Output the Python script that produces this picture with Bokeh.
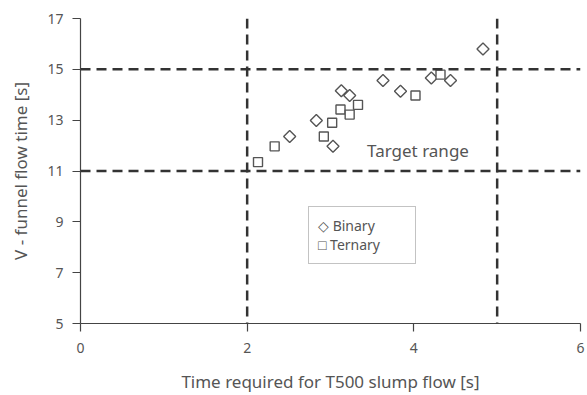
import math
from bokeh.plotting import figure
from bokeh.models import Range1d, Span, Label, Legend, LegendItem, FixedTicker
from bokeh.embed import file_html
from bokeh.resources import INLINE

# T500 slump flow time vs. V-funnel flow time
binary_t500 = [4.83, 3.63, 3.84, 4.21, 4.44, 3.13, 3.23, 2.83, 2.51, 3.03]
binary_vfunnel = [15.8, 14.56, 14.14, 14.66, 14.56, 14.16, 13.97, 12.99, 12.36, 11.97]

ternary_t500 = [2.13, 2.33, 2.92, 3.02, 3.12, 3.23, 3.33, 4.02, 4.32]
ternary_vfunnel = [11.35, 11.97, 12.36, 12.9, 13.42, 13.22, 13.6, 13.97, 14.79]

# target range limits
t500_limits = [2, 5]
vfunnel_limits = [11, 15]

x_ticks = [0, 2, 4, 6]
y_ticks = [5, 7, 9, 11, 13, 15, 17]

FONT = "Noto Sans"
TEXT = "#555555"
AXIS = "#444444"
MARK = "#555555"

p = figure(width=587, height=395, output_backend="svg", toolbar_location=None,
           x_range=Range1d(0, 6), y_range=Range1d(5, 17),
           min_border_left=80, min_border_right=7, min_border_top=18, min_border_bottom=72)
p.outline_line_color = None
p.xgrid.visible = False
p.ygrid.visible = False

for ax in (p.xaxis[0], p.yaxis[0]):
    ax.axis_line_color = AXIS
    ax.axis_line_width = 1.2
    ax.major_tick_line_color = AXIS
    ax.major_tick_line_width = 1.2
    ax.major_tick_in = 0
    ax.major_tick_out = 8
    ax.minor_tick_line_color = None
    ax.major_label_text_font = FONT
    ax.major_label_text_font_size = "14px"
    ax.major_label_text_color = TEXT
    ax.axis_label_text_font = FONT
    ax.axis_label_text_font_size = "17px"
    ax.axis_label_text_font_style = "normal"
    ax.axis_label_text_color = TEXT

p.xaxis.ticker = FixedTicker(ticks=x_ticks)
p.yaxis.ticker = FixedTicker(ticks=y_ticks)
p.xaxis.axis_label = "Time required for T500 slump flow [s]"
p.yaxis.axis_label = "V - funnel flow time [s]"
p.xaxis.major_label_standoff = 11
p.xaxis.axis_label_standoff = 14
p.yaxis.major_label_standoff = 9
p.yaxis.axis_label_standoff = 12

# target range boundaries
for xv in t500_limits:
    p.add_layout(Span(location=xv, dimension="height", line_color="#333333",
                      line_width=2.5, line_dash="10 6"))
for yv in vfunnel_limits:
    p.add_layout(Span(location=yv, dimension="width", line_color="#333333",
                      line_width=2.5, line_dash="10 6"))

p.add_layout(Label(x=4.05, y=11.36, text="Target range", text_align="center",
                   text_font=FONT, text_font_size="17px", text_color=TEXT))

r_bin = p.scatter(binary_t500, binary_vfunnel, marker="square", angle=math.pi / 4,
                  size=8.5, line_color=MARK, line_width=1.4, fill_color="white")
r_ter = p.scatter(ternary_t500, ternary_vfunnel, marker="square",
                  size=9, line_color=MARK, line_width=1.4, fill_color="white")

# legend keys are drawn as symbols in the label text; the item glyphs stay hidden
key_bin = p.scatter([], [], marker="square", alpha=0)
key_ter = p.scatter([], [], marker="square", alpha=0)
legend = Legend(items=[LegendItem(label="\u25C7 Binary", renderers=[key_bin]),
                       LegendItem(label="\u25A1 Ternary", renderers=[key_ter])],
                location=(228, 59), orientation="vertical",
                label_text_font=FONT, label_text_font_size="14px", label_text_color=TEXT,
                glyph_width=0, glyph_height=17, label_height=17, label_standoff=0,
                label_width=88, spacing=0, padding=9, margin=0,
                border_line_color="#888888", border_line_width=1.2,
                background_fill_color="white")
p.add_layout(legend)

open("out.html", "w").write(file_html(p, INLINE))
